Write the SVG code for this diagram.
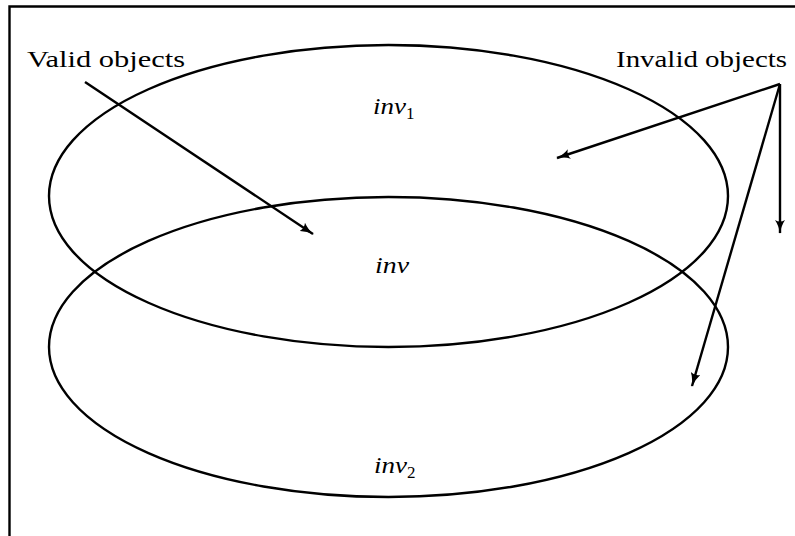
<svg xmlns="http://www.w3.org/2000/svg" width="795" height="536" viewBox="0 0 795 536">
<style>
.ln{fill:none;stroke:#000;stroke-width:2.4}
.lbl{font-family:"Liberation Serif","DejaVu Serif",serif;font-size:24px;fill:#000}
.math{font-family:"Liberation Serif","DejaVu Serif",serif;font-size:24px;font-style:italic;fill:#000}
.sub{font-family:"Liberation Serif","DejaVu Serif",serif;font-size:17px;fill:#000}
</style>
<defs>
<marker id="ah" viewBox="0 0 14 10" refX="13" refY="5" markerWidth="14" markerHeight="10" markerUnits="userSpaceOnUse" orient="auto">
<path d="M0,0 Q6,4 14,5 Q6,6 0,10 Q3,5 0,0 Z" fill="#000"/>
</marker>
</defs>
<rect width="795" height="536" fill="#fff"/>
<g id="frame"><path class="ln" d="M9.5,536 V6.5 H795"/></g>
<g id="set1"><ellipse class="ln" cx="388.5" cy="196" rx="339.5" ry="151"/><text class="math" x="373" y="114" textLength="33" lengthAdjust="spacingAndGlyphs">inv</text><text class="sub" x="406" y="119">1</text></g>
<g id="set2"><ellipse class="ln" cx="388.5" cy="347" rx="339.5" ry="150"/><text class="math" x="374" y="473" textLength="33" lengthAdjust="spacingAndGlyphs">inv</text><text class="sub" x="407" y="478">2</text></g>
<g id="intersection"><text class="math" x="375" y="273" textLength="34" lengthAdjust="spacingAndGlyphs">inv</text></g>
<g id="valid"><text class="lbl" x="27" y="67" textLength="158" lengthAdjust="spacingAndGlyphs">Valid objects</text></g>
<g id="invalid"><text class="lbl" x="616" y="67" textLength="171" lengthAdjust="spacingAndGlyphs">Invalid objects</text></g>
<g id="connectors">
<line class="ln" x1="85" y1="82" x2="313" y2="234" marker-end="url(#ah)"/>
<line class="ln" x1="780" y1="84" x2="557" y2="158" marker-end="url(#ah)"/>
<line class="ln" x1="780" y1="84" x2="780" y2="233" marker-end="url(#ah)"/>
<line class="ln" x1="780" y1="84" x2="692" y2="386" marker-end="url(#ah)"/>
</g>
</svg>
